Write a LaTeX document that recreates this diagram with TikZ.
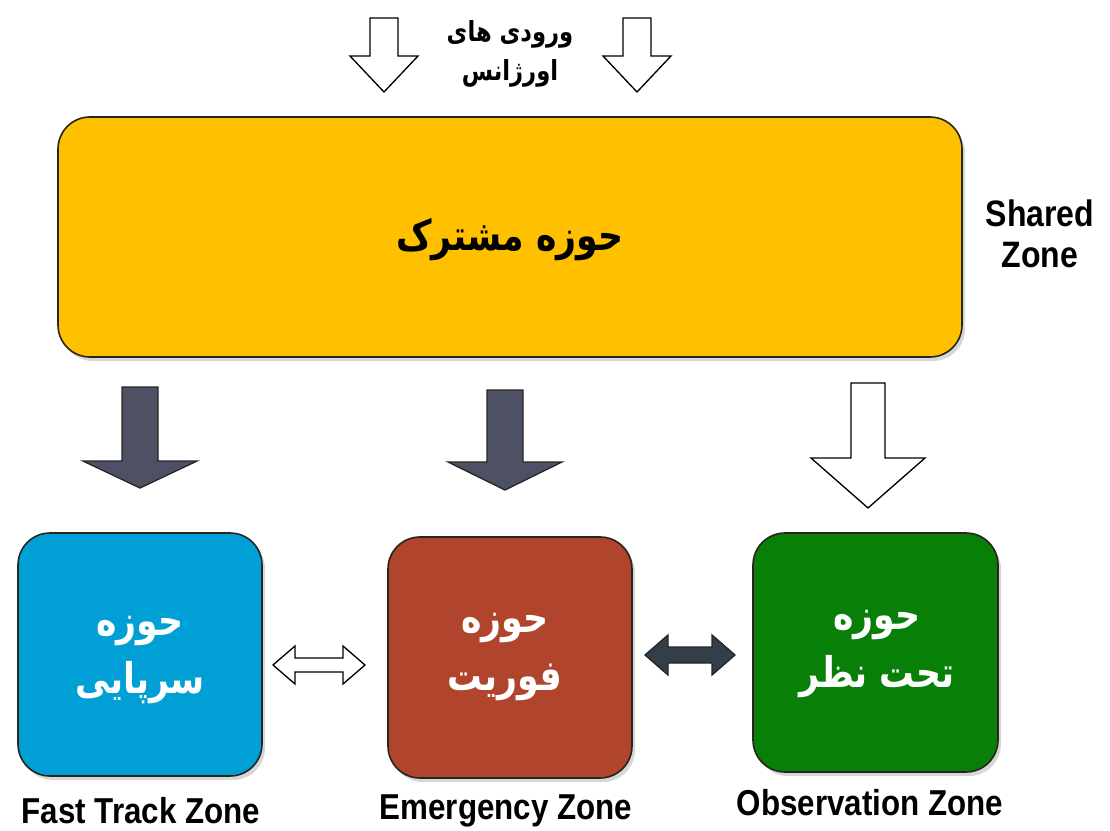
\documentclass[tikz,border=0pt]{standalone}
\usepackage{fontspec}
\setmainfont{Liberation Sans}
\newfontfamily\arabicfont[Script=Arabic]{DejaVu Sans}
\TeXXeTstate=1
\usetikzlibrary{calc}

\definecolor{sharedgold}{RGB}{255,192,0}
\definecolor{fastblue}{RGB}{0,160,214}
\definecolor{emerbrown}{RGB}{176,68,44}
\definecolor{obsgreen}{RGB}{8,128,8}
\definecolor{slatefill}{RGB}{78,81,99}
\definecolor{darklink}{RGB}{52,62,72}
\definecolor{edgedark}{RGB}{40,36,30}

% tall lettering
\newcommand{\tall}[2][1.22]{\scalebox{1}[#1]{#2}}

\tikzset{
  zonebox/.style={draw=edgedark, line width=1.2pt, rounded corners=24pt},
  shade box/.style={fill=black!45, opacity=0.35, rounded corners=24pt},
  zonetext/.style={text=white, align=center, font=\arabicfont\bfseries\fontsize{26}{44}\selectfont},
  engtext/.style={font=\bfseries\fontsize{23.5}{26}\selectfont, text=black, inner sep=0pt},
  hollowarrow/.style={fill=white, draw=black, line width=1pt, line join=miter},
  solidarrow/.style={fill=slatefill, draw=black!85, line width=1pt, line join=miter},
}

% vertical block arrow: centre x, top y, head-start y, tip y, shaft half width, head half width
\newcommand{\blockdown}[7]{%
  \draw[#1] (#2-#6,#3) -- (#2+#6,#3) -- (#2+#6,#4) -- (#2+#7,#4) -- (#2,#5)
    -- (#2-#7,#4) -- (#2-#6,#4) -- cycle;}
% horizontal two-headed block arrow: left x, right x, mid y, head length, shaft half, head half
\newcommand{\blockboth}[7]{%
  \draw[#1] (#2,#4) -- (#2+#5,#4-#7) -- (#2+#5,#4-#6) -- (#3-#5,#4-#6) -- (#3-#5,#4-#7)
    -- (#3,#4) -- (#3-#5,#4+#7) -- (#3-#5,#4+#6) -- (#2+#5,#4+#6) -- (#2+#5,#4+#7) -- cycle;}

\begin{document}
\begin{tikzpicture}[x=0.75pt, y=-0.75pt]
  \useasboundingbox (0,0) rectangle (1110,831);

  % incoming patient arrows
  \blockdown{hollowarrow}{384}{18}{56}{92}{14}{34}
  \blockdown{hollowarrow}{637}{18}{56}{92}{14}{34}
  \node[align=center, font=\arabicfont\bfseries\fontsize{17}{29}\selectfont] (inputs) at (510,54)
    {\tall{\beginR ورودی های\endR}\\ \tall{\beginR اورژانس\endR}};

  % shared zone
  \fill[shade box] (61,121) rectangle (965,361);
  \draw[zonebox, fill=sharedgold] (58,117) rectangle (962,357);
  \node[font=\arabicfont\bfseries\fontsize{26}{30}\selectfont] (shared) at (510,240)
    {\tall{\beginR حوزه مشترک\endR}};
  \node[engtext, align=center, font=\bfseries\fontsize{24}{31}\selectfont] (sharedlbl) at (1040,234)
    {\tall[1.15]{Shared}\\\tall[1.15]{Zone}};

  % distribution arrows
  \blockdown{solidarrow}{140}{387}{461}{488}{18}{57}
  \blockdown{solidarrow}{505}{390}{462}{490}{18}{57}
  \blockdown{hollowarrow}{868}{383}{458}{508}{17}{57}

  % fast track zone
  \fill[shade box] (21,537) rectangle (265,780);
  \draw[zonebox, fill=fastblue] (18,533) rectangle (262,776);
  \node[zonetext] (fast) at (140,660) {\tall{\beginR حوزه\endR}\\ \tall{\beginR سرپایی\endR}};
  \node[engtext] (fastlbl) at (141,811) {\tall[1.15]{Fast Track Zone}};

  % emergency zone
  \fill[shade box] (391,541) rectangle (635,782);
  \draw[zonebox, fill=emerbrown] (388,537) rectangle (632,778);
  \node[zonetext] (emer) at (505,657) {\tall{\beginR حوزه\endR}\\ \tall{\beginR فوریت\endR}};
  \node[engtext] (emerlbl) at (506,811) {\tall[1.15]{Emergency Zone}};

  % observation zone
  \fill[shade box] (756,537) rectangle (1001,776);
  \draw[zonebox, fill=obsgreen] (753,533) rectangle (998,772);
  \node[zonetext] (obs) at (877,654) {\tall{\beginR حوزه\endR}\\ \tall{\beginR تحت نظر\endR}};
  \node[engtext] (obslbl) at (870,803) {\tall[1.15]{Observation Zone}};

  % links between zones
  \blockboth{hollowarrow}{273}{365}{665}{22}{7}{19}
  \blockboth{solidarrow, fill=darklink}{645}{735}{655}{23}{8}{20}
\end{tikzpicture}
\end{document}
